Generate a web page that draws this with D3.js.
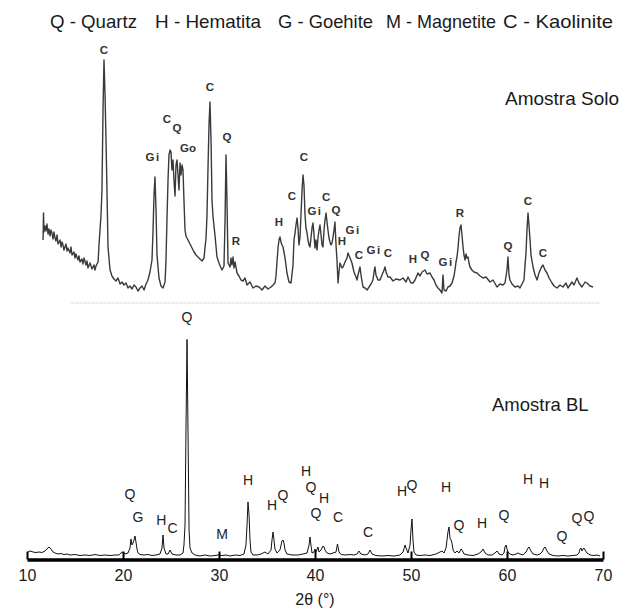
<!DOCTYPE html>
<html><head><meta charset="utf-8">
<script src="https://cdn.jsdelivr.net/npm/d3@7"></script>
<style>
html,body{margin:0;padding:0;background:#fff;}
svg{display:block;font-family:"Liberation Sans",Arial,sans-serif;}
</style></head>
<body><svg id="c" width="620" height="609"></svg>
<script>
// ---- data ----
const legendItems = ["Q - Quartz","H - Hematita","G - Goehite","M - Magnetite","C - Kaolinite"];
const sampleNames = ["Amostra Solo","Amostra BL"];
const xTicks = [10,20,30,40,50,60,70];
const xLabel = "2θ (°)";

// top pattern (Amostra Solo): [2θ, intensity]
const soloTheta = [11.67,11.72,11.77,11.88,11.98,12.08,12.19,12.29,12.40,12.50,12.60,12.71,12.81,12.92,13.02,13.13,13.23,13.44,13.54,13.65,13.75,13.85,14.06,14.17,14.27,14.48,14.58,14.69,14.90,15.00,15.10,15.31,15.42,15.52,15.73,15.83,15.94,16.15,16.25,16.35,16.56,16.67,16.77,16.98,17.08,17.19,17.40,
17.50,17.71,17.81,17.92,18.02,18.13,18.23,18.33,18.44,18.65,18.85,19.06,19.27,19.48,19.69,19.90,20.10,20.31,20.52,20.73,20.94,21.15,21.35,21.56,21.77,21.98,22.19,22.40,22.60,22.81,23.02,23.13,23.23,23.33,23.44,23.54,23.75,23.96,24.17,24.38,24.48,24.58,24.69,24.79,24.90,25.00,25.10,25.21,25.31,25.42,25.52,25.63,25.73,25.83,25.94,26.04,26.15,26.25,26.35,26.46,26.56,26.77,26.98,27.19,27.40,27.60,27.81,28.02,28.23,28.44,28.54,28.65,28.75,28.85,28.96,29.06,29.17,29.27,29.38,29.58,29.79,30.00,30.21,30.31,30.52,30.63,30.73,30.83,30.94,31.15,31.25,31.35,31.46,31.56,31.67,31.88,32.08,32.29,32.50,32.71,32.92,33.23,33.54,33.85,34.17,34.48,34.79,35.10,35.42,35.63,35.83,35.94,36.04,36.15,36.25,36.35,36.46,36.56,36.67,36.88,37.08,37.29,37.50,37.71,37.81,37.92,38.02,38.13,38.23,38.33,38.44,38.54,38.65,38.75,38.85,38.96,39.06,39.17,39.27,39.38,39.48,39.58,39.69,39.79,39.90,40.00,40.10,40.21,40.31,40.42,40.52,40.63,40.73,40.83,40.94,41.04,41.15,41.25,41.35,41.46,41.56,41.67,41.77,41.88,41.98,42.08,42.19,42.29,42.40,42.50,42.60,42.81,42.92,43.13,43.33,43.44,43.65,43.85,44.06,44.27,44.38,44.48,44.69,44.79,45.00,45.21,45.42,45.63,45.83,46.04,46.15,46.25,46.35,46.56,46.77,46.98,47.19,47.29,47.40,47.60,47.81,48.13,48.44,48.85,49.17,49.48,49.69,50.00,50.21,50.42,50.73,50.94,51.15,51.46,51.67,51.98,52.19,52.40,52.60,52.81,53.02,53.23,53.33,53.44,53.65,53.85,54.06,54.27,54.48,54.58,54.69,54.79,54.90,55.00,55.10,55.21,55.31,55.42,55.52,55.63,55.73,55.83,55.94,56.04,56.15,56.35,56.56,56.88,57.19,57.50,57.81,58.23,58.54,58.96,59.27,59.58,59.79,60.00,60.10,60.21,60.31,60.52,60.83,61.15,61.35,61.56,61.77,61.88,61.98,62.08,62.19,62.29,62.40,62.50,62.71,62.92,63.13,63.33,63.54,63.75,63.96,64.17,64.38,64.69,64.90,65.21,65.52,65.83,66.15,66.35,66.56,66.77,66.98,67.29,67.50,67.81,68.13,68.33,68.65,68.96];
const soloIntensity = [62,89,70,76,71,78,68,73,66,72,69,63,70,64,61,67,58,62,55,60,57,52,58,51,54,49,55,47,50,44,48,42,46,40,43,38,44,37,41,34,39,36,33,37,32,36,40,
57,87,112,192,242,207,162,112,55,32,26,23,21,24,18,20,17,19,14,16,13,17,15,11,14,16,12,18,22,30,42,72,107,125,92,47,24,16,14,20,42,82,122,147,152,150,132,142,122,106,137,142,127,112,139,127,137,132,102,72,66,62,58,54,50,47,45,43,41,44,54,64,87,132,177,200,162,102,85,67,45,39,34,32,36,82,147,102,39,35,44,37,45,34,40,29,26,22,21,24,17,20,14,16,15,12,16,13,15,17,19,26,40,54,62,65,60,57,55,44,29,20,19,37,62,69,77,84,74,57,65,87,112,127,117,87,74,69,62,57,55,64,74,79,67,54,62,52,64,72,77,67,57,55,72,82,89,80,72,64,60,57,59,65,72,80,57,42,19,30,39,34,35,40,44,49,44,39,30,25,22,27,35,27,15,14,12,15,18,22,30,35,27,22,22,27,32,35,30,25,25,21,23,22,24,20,25,19,19,22,29,26,30,32,28,29,25,22,17,14,12,9,27,12,11,15,16,19,26,32,40,45,54,66,74,77,67,55,47,42,48,44,45,39,35,32,30,29,26,24,25,20,22,15,18,17,19,32,45,27,22,18,15,16,14,18,22,37,49,72,89,77,62,47,35,27,22,29,34,37,32,29,24,19,16,14,17,15,19,14,17,20,17,24,19,15,20,19,16,15];

// bottom pattern (Amostra BL): [2θ, intensity]
const blTheta = [10.10,10.31,10.63,10.94,11.25,11.56,11.88,12.08,12.29,12.50,12.71,12.92,13.23,13.54,13.85,14.17,14.48,15.00,15.52,16.04,16.56,17.08,17.60,18.13,18.65,19.17,19.58,19.79,20.00,20.21,20.52,20.73,20.83,20.94,21.04,21.15,21.25,21.35,21.46,21.56,21.77,22.19,22.60,23.02,23.44,23.85,24.06,24.17,24.27,24.48,24.69,24.90,25.10,25.52,25.94,26.25,26.35,26.46,26.56,26.67,26.77,26.88,26.98,27.19,27.50,28.02,28.54,29.06,29.58,29.90,30.31,30.73,31.15,31.67,32.19,32.60,32.81,32.92,33.02,33.13,33.23,33.33,33.54,33.96,34.38,34.79,35.10,35.42,35.52,35.63,35.73,35.83,36.04,36.35,36.56,36.67,36.77,36.88,37.08,37.60,38.23,38.75,39.17,39.38,39.48,39.58,39.69,39.90,40.00,40.10,40.31,40.42,40.63,40.83,40.94,41.04,41.25,41.56,41.88,42.19,42.34,42.50,42.71,43.13,43.65,44.06,44.38,44.58,44.79,45.21,45.52,45.73,45.94,46.35,46.98,47.60,48.23,48.85,49.17,49.38,49.48,49.69,49.90,50.00,50.10,50.21,50.31,50.52,50.94,51.46,51.98,52.60,53.02,53.23,53.44,53.65,53.75,53.85,53.96,54.06,54.17,54.27,54.38,54.58,54.79,55.00,55.21,55.31,55.52,55.94,56.46,56.98,57.29,57.50,57.71,58.02,58.44,58.75,58.96,59.17,59.48,59.69,59.79,59.90,60.00,60.10,60.31,60.63,60.94,61.15,61.35,61.67,61.98,62.19,62.29,62.50,62.71,63.13,63.44,63.65,63.85,63.96,64.17,64.38,64.79,65.31,65.83,66.35,66.88,67.29,67.50,67.60,67.71,67.81,67.92,68.02,68.13,68.33,68.65,69.06,69.38,69.69];
const blIntensity = [7.5,8.5,7.5,7,7.5,7,8.5,10.5,12.5,10.5,7.5,6.5,5.5,6,5,5.5,4.5,5,4,4.5,4,5,4,4.5,4,4.5,4.5,6.5,7.5,5.5,6.5,11.5,20.5,14.5,16.5,19.5,23.5,17.5,10.5,6.5,5,4.5,5,4,4.5,5.5,11.5,24.5,11.5,5.5,5.5,9.5,5.5,4.5,4.5,6.5,14.5,34.5,129.5,220,129.5,29.5,11.5,6.5,4.5,3.5,4.5,3.5,4,4.5,4,4.5,3.5,4.5,4,5.5,14.5,34.5,57.5,44.5,19.5,7.5,4.5,4.5,5.5,7.5,5.5,9.5,19.5,27.5,19.5,10.5,6.5,9.5,18.5,19.5,16.5,9.5,5.5,4.5,4.5,5.5,6.5,14.5,22.5,14.5,6.5,7.5,10.5,7.5,12.5,7.5,9.5,13.5,12.5,9.5,6.5,5.5,6.5,7.5,15.5,7.5,5,4.5,5,4.5,5.5,8.5,5.5,4.5,5.5,9.5,5.5,4,3.5,4,3.5,4.5,7.5,14.5,11.5,6.5,14.5,29.5,40.5,19.5,7.5,4.5,4,4.5,4,5.5,7.5,8.5,6.5,11.5,19.5,27.5,32.5,21.5,19.5,16.5,9.5,6.5,8.5,6.5,10.5,9.5,5.5,4.5,4,5.5,7.5,10.5,6.5,4.5,4.5,6.5,8.5,5.5,4.5,6.5,12.5,14.5,10.5,7.5,5.5,4.5,5.5,6.5,5.5,4.5,7.5,11.5,12.5,8.5,5.5,4.5,5.5,7.5,11.5,12.5,8.5,5.5,4,3.5,4,3.5,4,4.5,6.5,10.5,11.5,8.5,10.5,11.5,9.5,6.5,4.5,4,4.5,3.5];

// phase labels: [text, 2θ, intensity]
const soloLabels = [["C",18.02,252],["Gi",23.13,145],["C",24.58,183],["Q",25.63,174],["Go",26.77,154],["C",29.06,215],["Q",30.83,165],["R",31.77,61],["H",36.25,80],["C",37.60,106],["C",38.85,145],["Gi",40.00,91],["C",41.15,105],["Q",42.19,92],["H",42.81,61],["Gi",43.96,72],["C",44.58,47],["Gi",46.15,52],["C",47.60,49],["H",50.21,43],["Q",51.46,47],["Gi",53.65,40],["R",55.10,89],["Q",60.10,56],["C",62.19,101],["C",63.75,49]];
const blLabels = [["Q",26.67,242.5],["Q",20.73,65.5],["G",21.56,42.5],["H",23.98,40],["C",25.15,32],["M",30.31,25.5],["H",33.02,79.5],["H",35.52,54.5],["Q",36.67,64.5],["H",39.06,88.5],["Q",39.58,72.5],["H",40.94,61.5],["Q",40.10,46.5],["C",42.40,42.5],["C",45.52,27.5],["H",49.06,68.5],["Q",50.10,74.5],["H",53.65,72.5],["Q",55.00,34.5],["H",57.40,36.5],["Q",59.69,44.5],["H",62.19,80.5],["H",63.85,76.5],["Q",65.73,23.5],["Q",67.29,41.5],["Q",68.54,43.5]];

// ---- drawing ----
const svg = d3.select("#c");
const x = d3.scaleLinear().domain([10,70]).range([27,603]);
const yTop = d3.scaleLinear().domain([0,250]).range([302,52]);
const yBot = d3.scaleLinear().domain([0,220]).range([559.5,339.5]);

svg.append("rect").attr("width",620).attr("height",609).attr("fill","#fff");

// legend
const legendX = [50,155,278,386,503];
const legendW = [87,106,95,110,110];
svg.append("g").selectAll("text").data(legendItems).join("text")
  .attr("x",(d,i)=>legendX[i]).attr("y",28)
  .attr("font-size",19).attr("fill","#1a1a1a")
  .attr("textLength",(d,i)=>legendW[i]).attr("lengthAdjust","spacingAndGlyphs")
  .text(d=>d);

// sample names
svg.append("text").attr("x",505).attr("y",105).attr("font-size",19).attr("fill","#1a1a1a").text(sampleNames[0]);
svg.append("text").attr("x",492).attr("y",411).attr("font-size",18.5).attr("fill","#1a1a1a").text(sampleNames[1]);

// faint baseline of top pattern
svg.append("line").attr("x1",x(14.6)).attr("x2",x(69.7)).attr("y1",yTop(-1)).attr("y2",yTop(-1))
  .attr("stroke","#d4d4d4").attr("stroke-width",1).attr("stroke-dasharray","3,1");

const soloData = soloTheta.map((t,i)=>[t,soloIntensity[i]]).filter(d=>d[1]!==undefined);
svg.append("path").datum(soloData)
  .attr("d",d3.line().x(d=>x(d[0])).y(d=>yTop(d[1])))
  .attr("fill","none").attr("stroke","#3a3a3a").attr("stroke-width",1.4).attr("stroke-linejoin","round");

const blData = blTheta.map((t,i)=>[t,blIntensity[i]]).filter(d=>d[1]!==undefined);
svg.append("path").datum(blData)
  .attr("d",d3.line().x(d=>x(d[0])).y(d=>yBot(d[1])))
  .attr("fill","none").attr("stroke","#111").attr("stroke-width",1);

// labels
svg.append("g").selectAll("text").data(soloLabels).join("text")
  .attr("x",d=>x(d[1])).attr("y",d=>yTop(d[2]))
  .attr("text-anchor","middle").attr("dominant-baseline","central")
  .attr("font-size",11.5).attr("font-weight","bold").attr("fill","#333")
  .attr("letter-spacing",d=>d[0]==="Gi"?1.5:0)
  .text(d=>d[0]);
svg.append("g").selectAll("text").data(blLabels).join("text")
  .attr("x",d=>x(d[1])).attr("y",d=>yBot(d[2]))
  .attr("text-anchor","middle").attr("dominant-baseline","central")
  .attr("font-size",14).attr("fill","#222")
  .text(d=>d[0]);

// axis
const ax = svg.append("g").attr("transform",`translate(0,${yBot(0)})`)
  .call(d3.axisBottom(x).tickValues(xTicks).tickSizeInner(-8).tickSizeOuter(0).tickPadding(10).tickFormat(d3.format("d")));
ax.select(".domain").attr("stroke","#000").attr("stroke-width",3.5);
ax.selectAll(".tick line").attr("stroke","#000").attr("stroke-width",2);
ax.selectAll(".tick text").attr("font-size",16).attr("fill","#1a1a1a").attr("font-family","Liberation Sans, Arial, sans-serif");

svg.append("text").attr("x",315).attr("y",605).attr("text-anchor","middle")
  .attr("font-size",16).attr("fill","#1a1a1a").text(xLabel);
</script></body></html>
